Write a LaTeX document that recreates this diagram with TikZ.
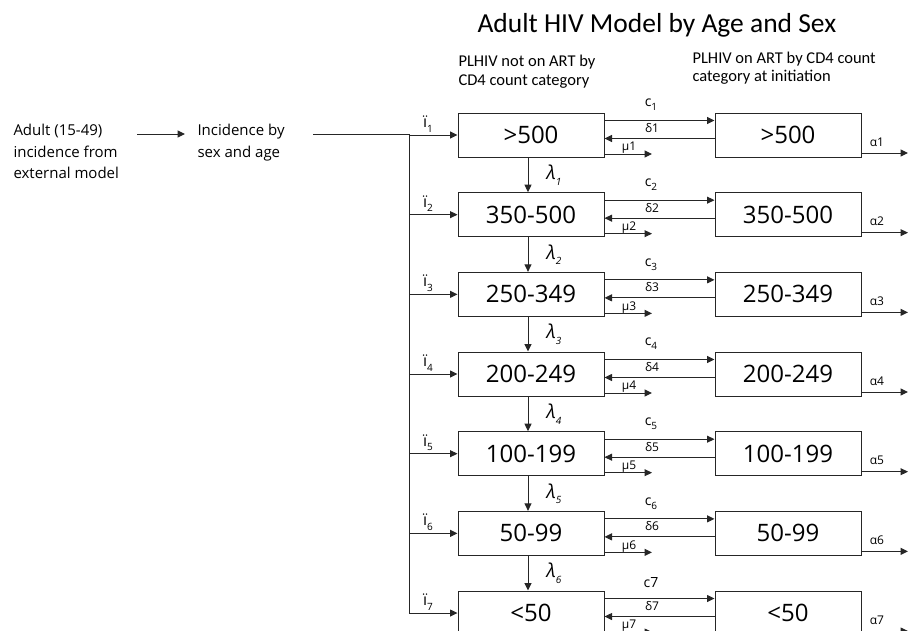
\documentclass[tikz,border=0pt]{standalone}
\usepackage{fontspec}
\setmainfont{Open Sans}
\newfontfamily\calfont{Carlito}
\usetikzlibrary{arrows.meta}
\newcommand\lowsub[1]{\raisebox{-0.3em}{\fontsize{10}{10}\selectfont #1}}
\begin{document}
\begin{tikzpicture}[x=1pt,y=-1pt,line width=1pt,draw=black!85,
  arr/.style={-{Triangle[length=7.5pt,width=7pt]}},
  box/.style={draw,minimum width=146pt,minimum height=44pt,inner sep=0pt,font=\fontsize{24}{24}\selectfont},
  lbl/.style={inner sep=0pt,font=\fontsize{12}{12}\selectfont},
  clbl/.style={inner sep=0pt,font=\fontsize{14}{14}\selectfont},
  ilbl/.style={inner sep=0pt,font=\fontsize{16}{16}\selectfont},
  lamlbl/.style={inner sep=0pt,font=\fontsize{19}{19}\selectfont\itshape},
  side/.style={inner sep=0pt,align=left,anchor=north west,font=\fontsize{15}{21.5}\selectfont},
  sub/.style={inner sep=0pt,align=left,anchor=north west,font=\calfont\fontsize{16.5}{18.5}\selectfont}]
\useasboundingbox (0,0) rectangle (915,630);
\clip (0,0) rectangle (915,630);
\node[inner sep=0pt,anchor=base west,font=\calfont\fontsize{27.5}{27.5}\selectfont] (title) at (477,32) {Adult HIV Model by Age and Sex};
\node[sub] (subL) at (458,55) {PLHIV not on ART by\\CD4 count category};
\node[sub] (subR) at (692,51.5) {PLHIV on ART by CD4 count\\category at initiation};
\node[side] (adult) at (13,124) {Adult (15-49)\\incidence from\\external model};
\node[side] (inc) at (197,124) {Incidence by\\sex and age};
\coordinate (a1) at (137,134);
\coordinate (a2) at (185,134);
\draw[arr] (a1) -- (a2);
\foreach \i/\lab/\clab in {1/{>500}/{c\lowsub{1}},2/{350-500}/{c\lowsub{2}},3/{250-349}/{c\lowsub{3}},4/{200-249}/{c\lowsub{4}},5/{100-199}/{c\lowsub{5}},6/{50-99}/{c\lowsub{6}},7/{<50}/{c7}} {
  \pgfmathsetmacro\t{113+79.67*(\i-1)}
  \pgfmathsetmacro\yc{\t+22}
  \node[box] (L\i) at (531,\yc) {\lab};
  \node[box] (R\i) at (788,\yc) {\lab};
  \coordinate (J\i) at (409,\yc);
  \coordinate (mu\i) at (652,\t+41);
  \coordinate (al\i) at (908,\t+40);
  \draw[arr] (J\i) -- (L\i.west);
  \draw[arr] ([yshift=-8pt]L\i.north east) -- ([yshift=-8pt]R\i.north west);
  \draw[arr] ([yshift=-26pt]R\i.north west) -- ([yshift=-26pt]L\i.north east);
  \draw[arr] (L\i.east |- mu\i) -- (mu\i);
  \draw[arr] (R\i.east |- al\i) -- (al\i);
  \node[clbl] (c\i) at (651,\t-8) {\clab};
  \node[lbl] (d\i) at (652,\t+15) {δ\i};
  \node[lbl] (m\i) at (629,\t+35) {μ\i};
  \node[lbl] (a\i) at (877,\t+29) {α\i};
  \node[ilbl] (i\i) at (428,\yc-11) {ï\lowsub{\i}};
}
\foreach \i/\j in {1/2,2/3,3/4,4/5,5/6,6/7} {
  \pgfmathsetmacro\t{113+79.67*(\i-1)}
  \draw[arr] ([xshift=-3pt]L\i.south) -- ([xshift=-3pt]L\j.north);
  \node[lamlbl] (lam\i) at (554,\t+62) {λ\lowsub{\i}};
}
\coordinate (inc0) at (313,134);
\draw (inc0) -- (J1 |- inc0) -- (J7);
\end{tikzpicture}
\end{document}
